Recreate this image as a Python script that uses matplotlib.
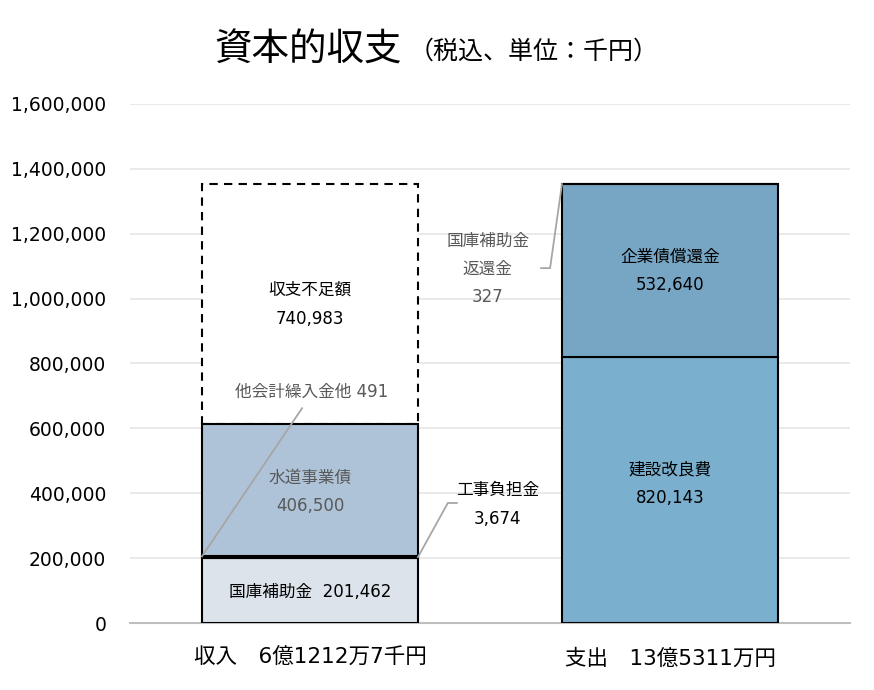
import matplotlib.pyplot as plt
import numpy as np

plt.rcParams['font.family'] = ['DejaVu Sans', 'Noto Sans CJK JP']

# Data (千円)
categories = ['収入\u30006億1212万7千円', '支出\u300013億5311万円']
income_names = ['国庫補助金', '工事負担金', '他会計繰入金他', '水道事業債', '収支不足額']
income_values = [201462, 3674, 491, 406500, 740983]
# stacked bottom to top
expense_names = ['建設改良費', '企業債償還金', '国庫補助金返還金']
expense_values = [820143, 532640, 327]
yticks = np.arange(0, 1600001, 200000)

income_colors = ['#DCE3EB', '#DCE3EB', '#DCE3EB', '#AEC3D8', 'white']
expense_colors = ['#7BAFCE', '#77A6C5', '#77A6C5']

fig = plt.figure(figsize=(8.74, 6.9), dpi=100)
ax = fig.add_axes([0.1487, 0.0971, 0.8238, 0.7522])

w = 0.6
x_in, x_out = 0, 1
fs = 12

# income bar
bottoms = np.concatenate([[0], np.cumsum(income_values)[:-1]])
for i, (v, b) in enumerate(zip(income_values, bottoms)):
    if income_names[i] == '収支不足額':
        ax.bar(x_in, v, w, bottom=b, color='white', edgecolor='black',
               linestyle=(0, (4, 3)), linewidth=1.5, zorder=2)
    else:
        ax.bar(x_in, v, w, bottom=b, color=income_colors[i], edgecolor='black',
               linewidth=1.5, zorder=3)

# expense bar
ebottoms = np.concatenate([[0], np.cumsum(expense_values)[:-1]])
for i, (v, b) in enumerate(zip(expense_values, ebottoms)):
    ax.bar(x_out, v, w, bottom=b, color=expense_colors[i], edgecolor='black',
           linewidth=1.5, zorder=3)

# labels inside bars
ax.text(x_in, bottoms[0] + income_values[0] / 2 - 6000,
        f'{income_names[0]}  {income_values[0]:,}', ha='center', va='center',
        fontsize=fs, zorder=5)
ax.text(x_in, bottoms[3] + income_values[3] / 2 - 4000,
        f'{income_names[3]}\n{income_values[3]:,}', ha='center', va='center',
        fontsize=fs, color='#595959', linespacing=1.75, zorder=5)
ax.text(x_in, bottoms[4] + income_values[4] / 2,
        f'{income_names[4]}\n{income_values[4]:,}', ha='center', va='center',
        fontsize=fs, linespacing=1.75, zorder=5)
ax.text(x_out, ebottoms[0] + expense_values[0] / 2 + 20000,
        f'{expense_names[0]}\n{expense_values[0]:,}', ha='center', va='center',
        fontsize=fs, linespacing=1.75, zorder=5)
ax.text(x_out, ebottoms[1] + expense_values[1] / 2,
        f'{expense_names[1]}\n{expense_values[1]:,}', ha='center', va='center',
        fontsize=fs, linespacing=1.75, zorder=5)

lc = '#A6A6A6'
# 他会計繰入金他
y0 = bottoms[2] + income_values[2] / 2
ax.plot([x_in - w / 2, -0.022], [y0, 662000], color=lc, lw=1.3, zorder=6)
ax.text(0.006, 712000, f'{income_names[2]} {income_values[2]:,}', ha='center',
        va='center', fontsize=fs, color='#595959', zorder=6)

# 工事負担金
y1 = bottoms[1] + income_values[1] / 2
ax.plot([x_in + w / 2, 0.383, 0.408], [y1, 370000, 370000], color=lc, lw=1.3,
        zorder=6)
ax.text(0.522, 366000, f'{income_names[1]}\n{income_values[1]:,}', ha='center',
        va='center', fontsize=fs, linespacing=1.75)

# 国庫補助金返還金
y2 = ebottoms[2] + expense_values[2] / 2
ax.plot([x_out - w / 2, 0.667, 0.642], [y2, 1094000, 1094000], color=lc, lw=1.3,
        zorder=6)
ax.text(0.494, 1091000, '国庫補助金\n返還金\n' + f'{expense_values[2]:,}',
        ha='center', va='center', fontsize=fs, color='#595959',
        linespacing=1.7)

ax.set_xlim(-0.5, 1.5)
ax.set_ylim(0, 1600000)
ax.set_yticks(yticks)
ax.set_yticklabels([f'{t:,}' for t in yticks], fontsize=13.5)
ax.set_xticks([x_in, x_out])
ax.set_xticklabels(categories, fontsize=15.5)
ax.tick_params(axis='both', length=0)
ax.tick_params(axis='y', pad=17)
ax.tick_params(axis='x', pad=18)
ax.grid(axis='y', color='#E6E6E6', linewidth=1.2, zorder=0)
ax.set_axisbelow(True)
for s in ['top', 'right', 'left']:
    ax.spines[s].set_visible(False)
ax.spines['bottom'].set_color('#BFBFBF')
ax.spines['bottom'].set_linewidth(1.5)

fig.text(0.245, 0.928, '資本的収支', fontsize=27, va='center', ha='left',
         family=['Noto Sans CJK JP'])
fig.text(0.467, 0.925, '（税込、単位：千円）', fontsize=18, va='center', ha='left',
         family=['Noto Sans CJK JP'])

fig.savefig('out.png', dpi=100)
